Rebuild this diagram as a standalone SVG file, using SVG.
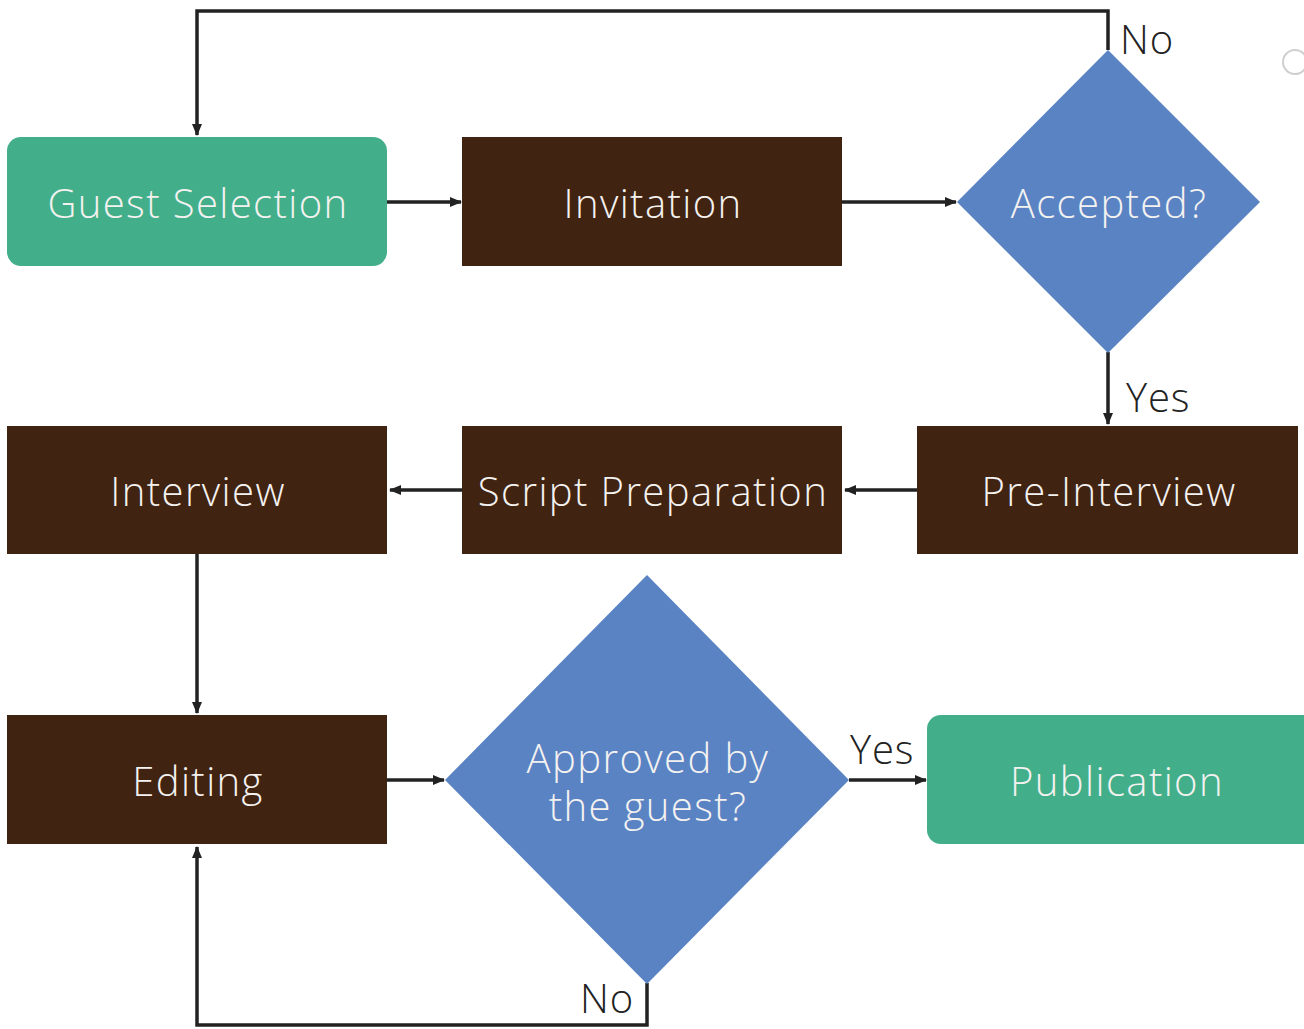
<svg xmlns="http://www.w3.org/2000/svg" width="1304" height="1029" viewBox="0 0 1304 1029">
<defs>
<marker id="ah" markerUnits="userSpaceOnUse" markerWidth="12" markerHeight="12" viewBox="0 0 12 12" refX="11" refY="6" orient="auto">
<path d="M0,1 L12,6 L0,11 Z" fill="#222"/>
</marker>
<style>
.green{fill:#42AF8A}
.brown{fill:#412311}
.blue{fill:#5A83C4}
.nt{font-family:"Open Sans",Lato,"Liberation Sans",sans-serif;font-weight:300;font-size:40px;letter-spacing:1.4px;fill:#F4F2F0;text-anchor:middle}
.lbl{font-family:"Open Sans",Lato,"Liberation Sans",sans-serif;font-weight:300;font-size:40px;letter-spacing:0.8px;fill:#222}
.cn{fill:none;stroke:#222;stroke-width:3.5}
</style>
</defs>
<rect width="1304" height="1029" fill="#fff"/>
<g id="connectors">
<path class="cn" d="M1108,50 V11 H197 V135" marker-end="url(#ah)"/>
<path class="cn" d="M387,202 H461" marker-end="url(#ah)"/>
<path class="cn" d="M842,202 H956" marker-end="url(#ah)"/>
<path class="cn" d="M1108,352 V424" marker-end="url(#ah)"/>
<path class="cn" d="M917,490 H845" marker-end="url(#ah)"/>
<path class="cn" d="M462,490 H390" marker-end="url(#ah)"/>
<path class="cn" d="M197,554 V713" marker-end="url(#ah)"/>
<path class="cn" d="M387,780 H444" marker-end="url(#ah)"/>
<path class="cn" d="M849,780 H926" marker-end="url(#ah)"/>
<path class="cn" d="M647,983 V1025 H197 V847" marker-end="url(#ah)"/>
<text class="lbl" x="1120" y="54">No</text>
<text class="lbl" x="1126" y="412">Yes</text>
<text class="lbl" x="850" y="764">Yes</text>
<text class="lbl" x="580" y="1013">No</text>
</g>
<g id="guest-selection"><rect class="green" x="7" y="137" width="380" height="129" rx="14"/><text class="nt" x="198" y="218">Guest Selection</text></g>
<g id="invitation"><rect class="brown" x="462" y="137" width="380" height="129"/><text class="nt" x="653" y="218">Invitation</text></g>
<g id="accepted"><polygon class="blue" points="1108,50 1260,202 1108,353 957,202"/><text class="nt" x="1109" y="218">Accepted?</text></g>
<g id="pre-interview"><rect class="brown" x="917" y="426" width="381" height="128"/><text class="nt" x="1109" y="506">Pre-Interview</text></g>
<g id="script-preparation"><rect class="brown" x="462" y="426" width="380" height="128"/><text class="nt" x="653" y="506">Script Preparation</text></g>
<g id="interview"><rect class="brown" x="7" y="426" width="380" height="128"/><text class="nt" x="198" y="506">Interview</text></g>
<g id="editing"><rect class="brown" x="7" y="715" width="380" height="129"/><text class="nt" x="198" y="796">Editing</text></g>
<g id="approved"><polygon class="blue" points="647,575 849,780 647,984 445,780"/><text class="nt" x="648" y="773">Approved by</text><text class="nt" x="648" y="821">the guest?</text></g>
<g id="publication"><rect class="green" x="927" y="715" width="392" height="129" rx="14"/><text class="nt" x="1117" y="796">Publication</text></g>
<circle cx="1295" cy="62" r="12" fill="none" stroke="#cfcfcf" stroke-width="2"/>
</svg>
